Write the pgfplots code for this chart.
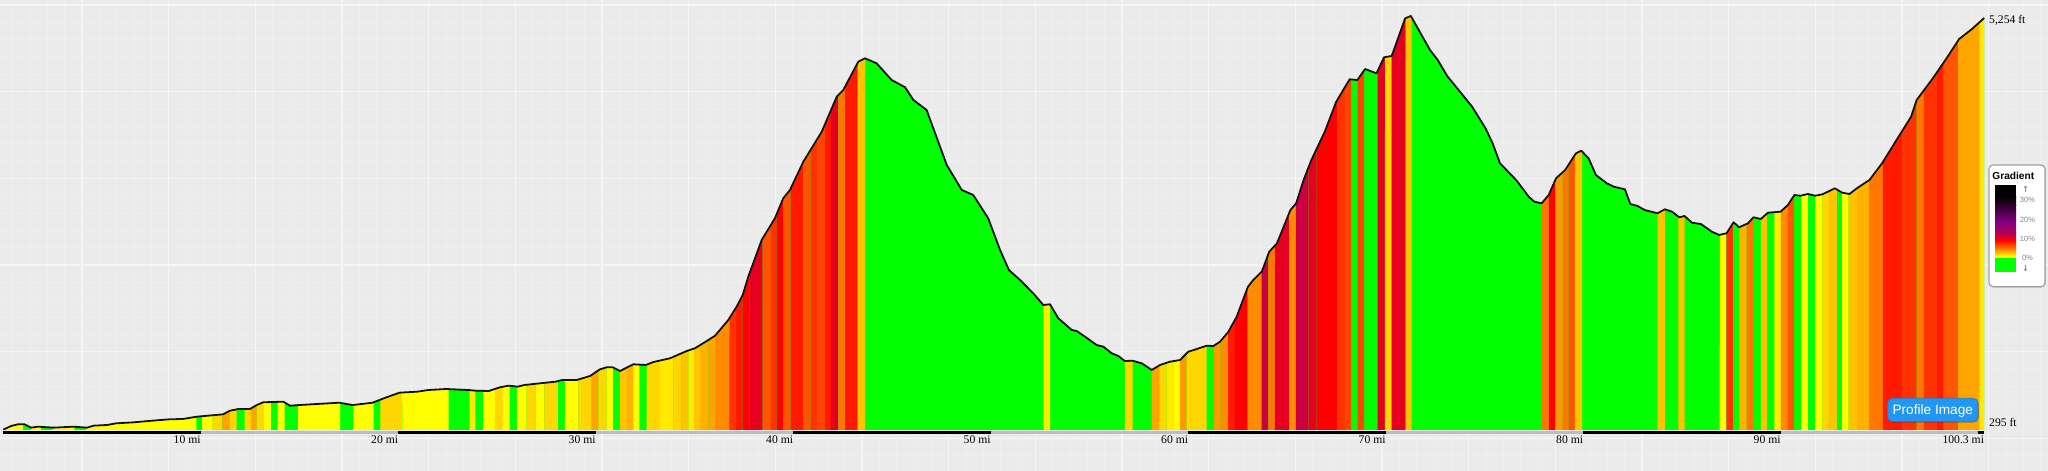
\documentclass[border=0pt]{standalone}
\usepackage{fontspec}
\setmainfont{Liberation Serif}
\newfontfamily\sansf{Liberation Sans}
\newfontfamily\dejavu{DejaVu Sans}
\usepackage{pgfplots}
\pgfplotsset{compat=1.18}
\usepgfplotslibrary{fillbetween}
\usepackage{pgfplotstable}

\definecolor{bgc}{HTML}{EBEBEB}
\definecolor{gmaj}{HTML}{F6F6F6}
\definecolor{gmin}{HTML}{EFEFEF}
\definecolor{barg}{HTML}{BDBDBD}
\definecolor{cG}{HTML}{00FF00}
\definecolor{cY}{HTML}{FFFF00}
\definecolor{cY2}{HTML}{FFEA00}
\definecolor{cGD}{HTML}{FFD700}
\definecolor{cGD2}{HTML}{FFC400}
\definecolor{cAM2}{HTML}{FFB300}
\definecolor{cAM}{HTML}{FFA500}
\definecolor{cAM3}{HTML}{FF9900}
\definecolor{cOR}{HTML}{FF8C00}
\definecolor{cOR2}{HTML}{FF7700}
\definecolor{cOR3}{HTML}{FF5500}
\definecolor{cOR4}{HTML}{FF4500}
\definecolor{cRO}{HTML}{FF3300}
\definecolor{cR1}{HTML}{FF1A00}
\definecolor{cR}{HTML}{FF0000}
\definecolor{cCR}{HTML}{E6001F}
\definecolor{cCR2}{HTML}{CC0040}
\definecolor{lgOr}{HTML}{FF8000}
\definecolor{lgMag}{HTML}{B0005A}
\definecolor{lgPur}{HTML}{800080}
\definecolor{lgDk}{HTML}{300030}
\definecolor{btn}{HTML}{2196F3}
\definecolor{btnb}{HTML}{1A7FD4}

\pgfplotstableread{
mi ft
0.00 300
0.40 343
0.74 363
1.07 363
1.41 323
1.75 335
2.55 323
3.56 335
4.24 323
4.58 347
5.26 355
5.71 375
6.61 387
7.51 406
8.42 423
9.10 427
9.78 454
11.13 483
11.47 526
11.92 547
12.49 547
12.83 594
13.16 627
14.18 634
14.52 586
14.97 594
17.01 622
17.69 594
18.70 622
19.27 675
20.06 742
20.96 754
21.52 774
22.43 786
23.56 774
23.90 766
24.58 762
25.14 806
25.59 826
26.05 814
26.38 834
27.96 874
28.30 894
29.03 894
29.71 942
30.21 1022
30.55 1046
30.86 1046
31.23 1002
31.90 1082
32.54 1074
32.91 1109
33.76 1154
34.60 1241
35.02 1274
35.62 1361
36.04 1425
36.71 1613
37.13 1772
37.44 1912
37.72 2131
38.40 2571
39.07 2831
39.49 3070
39.83 3170
40.51 3509
41.44 3868
42.20 4287
42.53 4367
43.29 4706
43.63 4747
44.22 4687
44.98 4487
45.66 4400
46.08 4248
46.75 4128
47.77 3469
48.53 3170
49.11 3110
49.87 2831
50.47 2451
50.92 2211
51.48 2092
52.15 1932
52.66 1792
53.00 1801
53.42 1633
54.10 1493
54.35 1481
54.77 1413
55.36 1313
55.70 1293
56.12 1214
56.46 1181
56.79 1121
57.18 1125
57.64 1094
58.15 1014
58.57 1074
59.07 1113
59.58 1133
60.00 1233
60.43 1265
60.93 1305
61.27 1301
61.61 1353
62.03 1472
62.45 1652
63.02 2011
63.29 2092
63.72 2191
64.10 2431
64.49 2531
65.17 2930
65.46 3010
65.84 3290
66.23 3529
66.91 3868
67.49 4227
68.17 4496
68.56 4487
68.95 4619
69.53 4567
69.91 4759
70.30 4775
70.98 5226
71.27 5254
72.24 4846
72.63 4727
73.11 4535
74.37 4168
75.05 3909
75.41 3729
75.78 3490
76.60 3290
77.24 3089
77.52 3030
77.89 3010
78.25 3110
78.62 3310
79.08 3409
79.63 3609
79.90 3640
80.27 3549
80.64 3349
81.19 3250
81.55 3209
82.11 3178
82.38 3002
82.75 2978
83.11 2930
83.76 2891
84.13 2939
84.49 2910
84.86 2843
85.13 2858
85.50 2778
85.96 2762
86.51 2670
86.88 2631
87.25 2651
87.61 2783
87.89 2723
88.34 2771
88.62 2843
88.99 2822
89.35 2898
89.99 2910
90.36 2990
90.69 3110
91.00 3101
91.37 3122
91.74 3101
92.11 3118
92.74 3190
93.11 3137
93.48 3122
93.85 3190
94.49 3290
95.13 3490
95.86 3769
96.60 4048
96.88 4248
97.71 4511
98.37 4739
99.03 4978
99.68 5098
100.30 5230
}\prof

\newcommand\strip[3]{\addplot[fill=#3, draw=none] fill between[of=prof and base, soft clip={domain=#1:#2}];}

\begin{document}
\begin{tikzpicture}
\begin{axis}[
  set layers,
  at={(0,0)}, anchor=south west,
  scale only axis, width=2048bp, height=471bp,
  xmin=-0.167, xmax=103.53, ymin=-196.1, ymax=5445.5,
  axis background/.style={fill=bgc},
  axis line style={draw=none},
  major tick length=0pt, minor tick length=0pt,
  xtick={3.98481,8.37299,...,100.6},
  minor xtick={0.4745,1.35214,...,103.6},
  ytick={195.2,1233.3,...,5386},
  minor ytick={-12.4,195.2,...,5386},
  xticklabels={}, yticklabels={},
  grid=both,
  major grid style={draw=gmaj, line width=1.6bp},
  minor grid style={draw=gmin, line width=1bp},
  xticklabel style={inner sep=0pt, font=\fontsize{11.7}{13}\selectfont, anchor=north east, yshift=35bp},
  yticklabel pos=right,
  yticklabel style={inner sep=0pt, font=\fontsize{11.7}{13}\selectfont, anchor=base west, xshift=-59bp},
  extra x ticks={10,20,30,40,50,60,70,80,90,100.3},
  extra x tick labels={10 mi,20 mi,30 mi,40 mi,50 mi,60 mi,70 mi,80 mi,90 mi,100.3 mi},
  extra x tick style={grid=none},
  extra y ticks={5254,295},
  extra y tick labels={{\raisebox{-8bp}{5,254 ft}},{\raisebox{3bp}{295 ft}}},
  extra y tick style={grid=none},
]
\addplot[name path=prof, draw=none, forget plot] table[x=mi, y=ft] {\prof};
\addplot[name path=base, draw=none, forget plot] coordinates {(0,295) (100.3,295)};
\addplot[fill=cG, draw=none] fill between[of=prof and base];

\strip{0}{1.0}{cY}
\strip{1.4}{1.9}{cY}
\strip{2.5}{3.6}{cY}
\strip{4.2}{9.78}{cY}
\strip{10.07}{10.6}{cY}
\strip{10.6}{11.09}{cGD}
\strip{11.09}{11.47}{cAM}
\strip{11.47}{11.81}{cGD}
\strip{12.22}{12.53}{cGD}
\strip{12.53}{12.83}{cAM}
\strip{12.83}{13.2}{cGD}
\strip{13.2}{13.55}{cY}
\strip{13.89}{14.25}{cY}
\strip{14.93}{17.05}{cY}
\strip{17.73}{18.75}{cY}
\strip{19.09}{20.2}{cGD}
\strip{20.2}{22.55}{cY}
\strip{23.61}{23.9}{cY2}
\strip{24.29}{24.9}{cY}
\strip{24.9}{25.3}{cGD}
\strip{25.3}{25.64}{cY}
\strip{26.0}{26.5}{cY}
\strip{26.5}{26.95}{cGD}
\strip{26.95}{27.4}{cY}
\strip{27.4}{28.08}{cGD}
\strip{28.44}{29.12}{cY}
\strip{29.12}{29.79}{cGD}
\strip{29.79}{30.13}{cAM}
\strip{30.13}{30.55}{cGD}
\strip{30.55}{30.86}{cY}
\strip{31.23}{31.57}{cGD2}
\strip{31.57}{31.9}{cAM2}
\strip{31.9}{32.21}{cY}
\strip{32.58}{33.25}{cGD}
\strip{33.25}{33.93}{cY2}
\strip{33.93}{34.35}{cGD}
\strip{34.35}{34.69}{cGD2}
\strip{34.69}{34.98}{cY2}
\strip{34.98}{35.28}{cGD2}
\strip{35.28}{35.7}{cAM2}
\strip{35.7}{36.04}{cAM}
\strip{36.04}{36.77}{cOR}
\strip{36.77}{37.1}{cRO}
\strip{37.1}{37.44}{cR1}
\strip{37.44}{37.78}{cR}
\strip{37.78}{38.45}{cCR}
\strip{38.45}{38.86}{cOR3}
\strip{38.86}{39.16}{cRO}
\strip{39.16}{39.5}{cR}
\strip{39.5}{39.87}{cOR3}
\strip{39.87}{40.51}{cR1}
\strip{40.51}{40.88}{cOR3}
\strip{40.88}{41.22}{cRO}
\strip{41.22}{41.61}{cOR4}
\strip{41.61}{41.9}{cR1}
\strip{41.9}{42.28}{cCR}
\strip{42.28}{42.62}{cOR2}
\strip{42.62}{43.26}{cR1}
\strip{43.26}{43.64}{cGD2}
\strip{52.67}{53.0}{cY2}
\strip{56.79}{57.18}{cGD}
\strip{58.14}{58.53}{cAM}
\strip{58.53}{58.9}{cGD}
\strip{58.9}{59.24}{cY2}
\strip{59.24}{59.58}{cY}
\strip{59.58}{59.91}{cAM3}
\strip{59.91}{60.93}{cGD}
\strip{61.3}{61.64}{cAM3}
\strip{61.64}{62.02}{cOR}
\strip{62.02}{62.36}{cR1}
\strip{62.36}{63.0}{cR}
\strip{63.0}{63.71}{cOR}
\strip{63.71}{64.05}{cCR2}
\strip{64.05}{64.39}{cOR2}
\strip{64.39}{65.11}{cCR}
\strip{65.11}{65.45}{cOR}
\strip{65.45}{66.08}{cCR2}
\strip{66.08}{66.5}{cCR}
\strip{66.5}{67.54}{cR}
\strip{67.54}{67.93}{cRO}
\strip{67.93}{68.24}{cOR4}
\strip{68.57}{68.9}{cOR4}
\strip{69.59}{69.96}{cCR}
\strip{69.96}{70.3}{cGD}
\strip{70.3}{71.0}{cCR}
\strip{71.0}{71.31}{cGD2}
\strip{77.89}{78.26}{cOR2}
\strip{78.26}{78.59}{cR}
\strip{78.59}{78.95}{cAM3}
\strip{78.95}{79.26}{cOR2}
\strip{79.26}{79.58}{cOR3}
\strip{79.58}{79.94}{cGD2}
\strip{83.76}{84.13}{cGD2}
\strip{84.82}{85.13}{cGD2}
\strip{86.91}{87.24}{cY}
\strip{87.24}{87.57}{cRO}
\strip{87.9}{88.27}{cAM2}
\strip{88.27}{88.62}{cOR2}
\strip{88.99}{89.3}{cGD2}
\strip{89.67}{90.0}{cY2}
\strip{90.0}{90.36}{cOR}
\strip{90.36}{90.67}{cOR3}
\strip{91.04}{91.37}{cY}
\strip{91.74}{92.11}{cY}
\strip{92.11}{92.47}{cGD}
\strip{92.47}{92.84}{cGD2}
\strip{93.11}{93.44}{cY}
\strip{93.44}{93.85}{cGD2}
\strip{93.85}{94.49}{cAM2}
\strip{94.49}{95.17}{cOR2}
\strip{95.17}{96.14}{cR1}
\strip{96.14}{96.88}{cRO}
\strip{96.88}{97.24}{cOR2}
\strip{97.24}{97.92}{cRO}
\strip{97.92}{98.25}{cR1}
\strip{98.25}{98.98}{cOR3}
\strip{98.98}{100.05}{cAM}
\strip{100.05}{100.3}{cY2}

\addplot[draw=black!92, line width=1.8bp, line join=round] table[x=mi, y=ft] {\prof};

\addplot[black, line width=3.4bp, unbounded coords=jump] coordinates {(0,266) (10,266) (nan,nan) (20,266) (30,266) (nan,nan) (40,266) (50,266) (nan,nan) (60,266) (70,266) (nan,nan) (80,266) (90,266) (nan,nan) (100,266) (100.3,266)};
\addplot[barg, line width=3.4bp, unbounded coords=jump] coordinates {(10,266) (20,266) (nan,nan) (30,266) (40,266) (nan,nan) (50,266) (60,266) (nan,nan) (70,266) (80,266) (nan,nan) (90,266) (100,266)};
\end{axis}

\begin{scope}[x=1bp, y=1bp]
% legend
\fill[black, opacity=0.12, rounded corners=4] (1989.8,183.4) rectangle (2045.9,305.2);
\draw[draw=gray!75, line width=1.2, fill=white, rounded corners=4] (1989,184.3) rectangle (2045,306);
\node[font=\sansf\bfseries\fontsize{10.2}{12}\selectfont] at (2013.3,295.5) {Gradient};
\fill[cG] (1995,199.3) rectangle (2016,212.7);
\fill[cY] (1995,212.6) rectangle (2016,214.6);
\shade[bottom color=cY, top color=lgOr] (1995,214.5) rectangle (2016,222.1);
\shade[bottom color=lgOr, top color=cR] (1995,222) rectangle (2016,230.8);
\shade[bottom color=cR, top color=lgMag] (1995,230.7) rectangle (2016,238.1);
\shade[bottom color=lgMag, top color=lgPur] (1995,238) rectangle (2016,250.1);
\shade[bottom color=lgPur, top color=lgDk] (1995,250) rectangle (2016,265.1);
\shade[bottom color=lgDk, top color=black] (1995,265) rectangle (2016,275.1);
\fill[black] (1995,275) rectangle (2016,286);
\node[font=\dejavu\bfseries\fontsize{8.5}{9}\selectfont, text=gray!90] at (2025.7,281.5) {↑};
\node[font=\dejavu\bfseries\fontsize{8.5}{9}\selectfont, text=gray!90] at (2025.7,202.8) {↓};
\node[font=\sansf\fontsize{7.6}{9}\selectfont, text=gray!95] at (2027.5,271) {30\%};
\node[font=\sansf\fontsize{7.6}{9}\selectfont, text=gray!95] at (2027.5,251) {20\%};
\node[font=\sansf\fontsize{7.6}{9}\selectfont, text=gray!95] at (2027.5,231.7) {10\%};
\node[font=\sansf\fontsize{7.6}{9}\selectfont, text=gray!95] at (2027.5,212.7) {0\%};
% button
\fill[black, opacity=0.25, rounded corners=5] (1888.4,48.3) rectangle (1978.8,71.9);
\draw[fill=btn, draw=btnb, line width=0.8, rounded corners=5] (1887.6,49.3) rectangle (1978,72.7);
\node[text=white, font=\sansf\fontsize{13.7}{15}\selectfont] at (1932.8,60.3) {Profile Image};
\end{scope}
\pgfresetboundingbox
\path[use as bounding box] (0,0) rectangle (2048bp,471bp);
\end{tikzpicture}
\end{document}
